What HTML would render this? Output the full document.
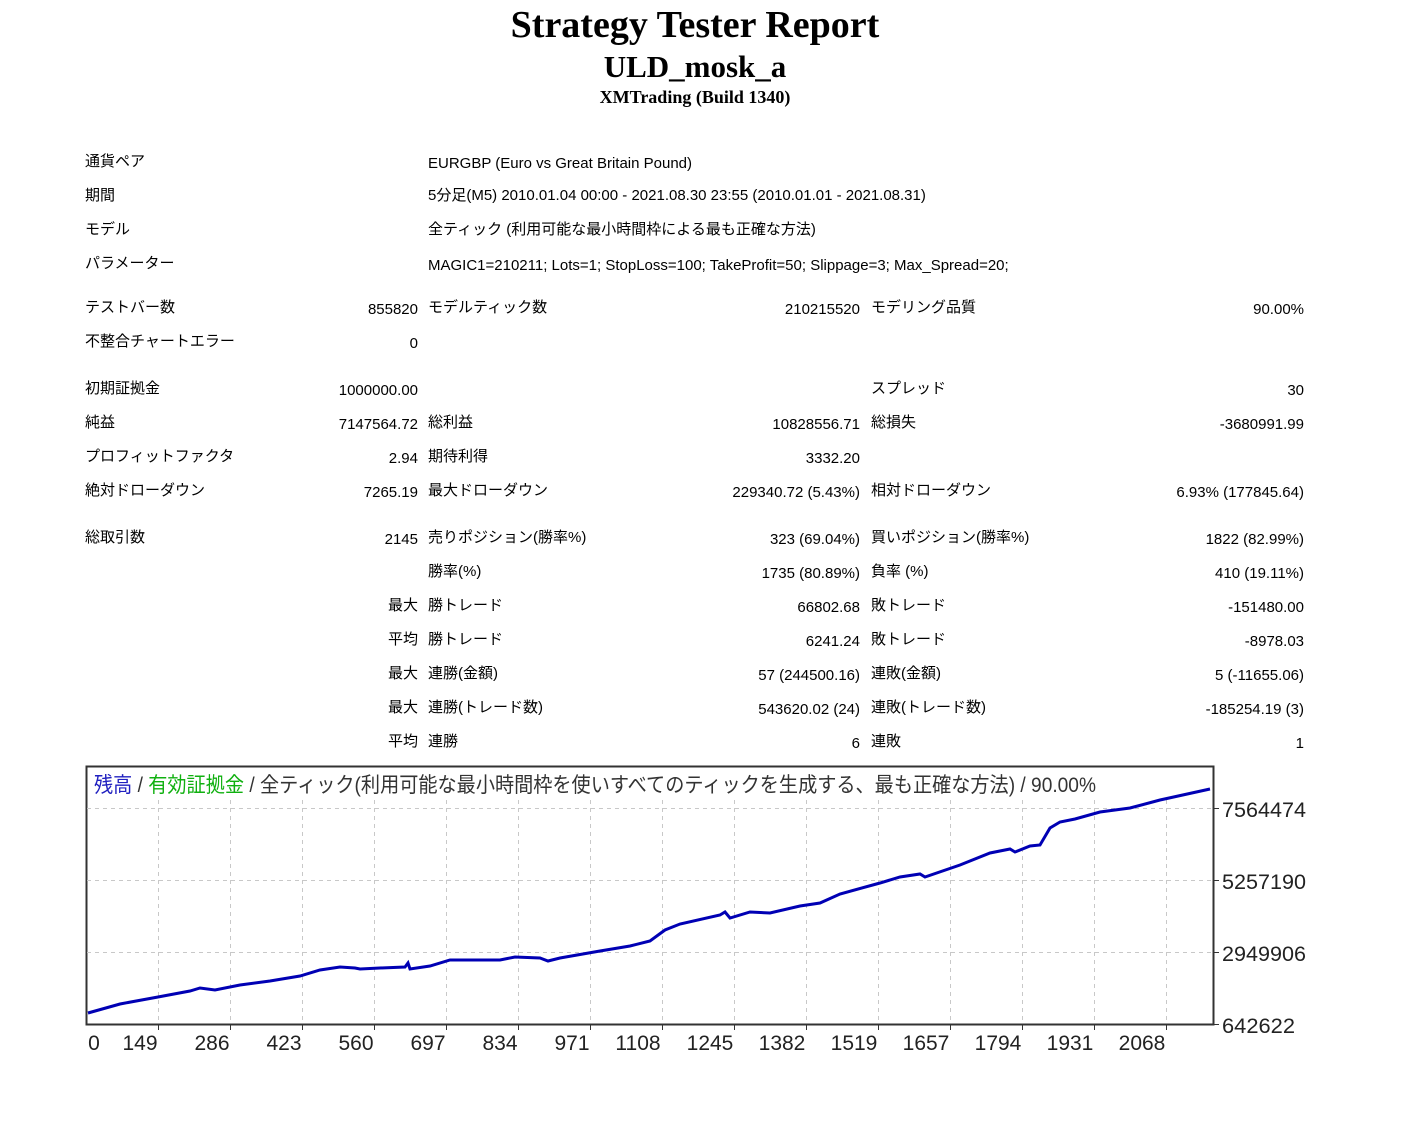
<!DOCTYPE html>
<html><head><meta charset="utf-8"><style>
body{margin:0;width:1411px;height:1134px;background:#fff;position:relative;overflow:hidden;font-family:"Liberation Sans","Noto Sans CJK JP",sans-serif;color:#000}
.t{position:absolute;font-size:15px;line-height:18px;white-space:nowrap;margin-top:2px}
.r{text-align:right}
h1,h2,h3{position:absolute;left:0;width:1390px;text-align:center;margin:0;font-family:"Liberation Serif",serif;font-weight:bold}
</style></head><body>
<h1 style="top:3px;font-size:38px;line-height:44px">Strategy Tester Report</h1>
<h2 style="top:49px;font-size:31px;line-height:36px">ULD_mosk_a</h2>
<h3 style="top:86px;font-size:18px;line-height:22px">XMTrading (Build 1340)</h3>

<div class="t" style="left:85px;top:151px">通貨ペア</div>
<div class="t" style="left:428px;top:153px">EURGBP (Euro vs Great Britain Pound)</div>
<div class="t" style="left:85px;top:185px">期間</div>
<div class="t" style="left:428px;top:185px">5分足(M5) 2010.01.04 00:00 - 2021.08.30 23:55 (2010.01.01 - 2021.08.31)</div>
<div class="t" style="left:85px;top:219px">モデル</div>
<div class="t" style="left:428px;top:219px">全ティック (利用可能な最小時間枠による最も正確な方法)</div>
<div class="t" style="left:85px;top:253px">パラメーター</div>
<div class="t" style="left:428px;top:255px">MAGIC1=210211; Lots=1; StopLoss=100; TakeProfit=50; Slippage=3; Max_Spread=20;</div>

<div class="t" style="left:85px;top:297px">テストバー数</div>
<div class="t r" style="right:993px;top:299px">855820</div>
<div class="t" style="left:428px;top:297px">モデルティック数</div>
<div class="t r" style="right:551px;top:299px">210215520</div>
<div class="t" style="left:871px;top:297px">モデリング品質</div>
<div class="t r" style="right:107px;top:299px">90.00%</div>
<div class="t" style="left:85px;top:331px">不整合チャートエラー</div>
<div class="t r" style="right:993px;top:333px">0</div>

<div class="t" style="left:85px;top:378px">初期証拠金</div>
<div class="t r" style="right:993px;top:380px">1000000.00</div>
<div class="t" style="left:871px;top:378px">スプレッド</div>
<div class="t r" style="right:107px;top:380px">30</div>
<div class="t" style="left:85px;top:412px">純益</div>
<div class="t r" style="right:993px;top:414px">7147564.72</div>
<div class="t" style="left:428px;top:412px">総利益</div>
<div class="t r" style="right:551px;top:414px">10828556.71</div>
<div class="t" style="left:871px;top:412px">総損失</div>
<div class="t r" style="right:107px;top:414px">-3680991.99</div>
<div class="t" style="left:85px;top:446px">プロフィットファクタ</div>
<div class="t r" style="right:993px;top:448px">2.94</div>
<div class="t" style="left:428px;top:446px">期待利得</div>
<div class="t r" style="right:551px;top:448px">3332.20</div>
<div class="t" style="left:85px;top:480px">絶対ドローダウン</div>
<div class="t r" style="right:993px;top:482px">7265.19</div>
<div class="t" style="left:428px;top:480px">最大ドローダウン</div>
<div class="t r" style="right:551px;top:482px">229340.72 (5.43%)</div>
<div class="t" style="left:871px;top:480px">相対ドローダウン</div>
<div class="t r" style="right:107px;top:482px">6.93% (177845.64)</div>

<div class="t" style="left:85px;top:527px">総取引数</div>
<div class="t r" style="right:993px;top:529px">2145</div>
<div class="t" style="left:428px;top:527px">売りポジション(勝率%)</div>
<div class="t r" style="right:551px;top:529px">323 (69.04%)</div>
<div class="t" style="left:871px;top:527px">買いポジション(勝率%)</div>
<div class="t r" style="right:107px;top:529px">1822 (82.99%)</div>

<div class="t" style="left:428px;top:561px">勝率(%)</div>
<div class="t r" style="right:551px;top:563px">1735 (80.89%)</div>
<div class="t" style="left:871px;top:561px">負率 (%)</div>
<div class="t r" style="right:107px;top:563px">410 (19.11%)</div>

<div class="t r" style="right:993px;top:595px">最大</div>
<div class="t" style="left:428px;top:595px">勝トレード</div>
<div class="t r" style="right:551px;top:597px">66802.68</div>
<div class="t" style="left:871px;top:595px">敗トレード</div>
<div class="t r" style="right:107px;top:597px">-151480.00</div>

<div class="t r" style="right:993px;top:629px">平均</div>
<div class="t" style="left:428px;top:629px">勝トレード</div>
<div class="t r" style="right:551px;top:631px">6241.24</div>
<div class="t" style="left:871px;top:629px">敗トレード</div>
<div class="t r" style="right:107px;top:631px">-8978.03</div>

<div class="t r" style="right:993px;top:663px">最大</div>
<div class="t" style="left:428px;top:663px">連勝(金額)</div>
<div class="t r" style="right:551px;top:665px">57 (244500.16)</div>
<div class="t" style="left:871px;top:663px">連敗(金額)</div>
<div class="t r" style="right:107px;top:665px">5 (-11655.06)</div>

<div class="t r" style="right:993px;top:697px">最大</div>
<div class="t" style="left:428px;top:697px">連勝(トレード数)</div>
<div class="t r" style="right:551px;top:699px">543620.02 (24)</div>
<div class="t" style="left:871px;top:697px">連敗(トレード数)</div>
<div class="t r" style="right:107px;top:699px">-185254.19 (3)</div>

<div class="t r" style="right:993px;top:731px">平均</div>
<div class="t" style="left:428px;top:731px">連勝</div>
<div class="t r" style="right:551px;top:733px">6</div>
<div class="t" style="left:871px;top:731px">連敗</div>
<div class="t r" style="right:107px;top:733px">1</div>

<svg style="position:absolute;left:0;top:0" width="1411" height="1134">
<rect x="86.5" y="766.5" width="1127" height="258" fill="#fff" stroke="#333" stroke-width="2"/>
<g stroke="#c8c8c8" stroke-width="1" stroke-dasharray="4,4">
<line x1="87" y1="808.5" x2="1213" y2="808.5"/><line x1="87" y1="880.5" x2="1213" y2="880.5"/><line x1="87" y1="952.5" x2="1213" y2="952.5"/>
<line x1="158.5" y1="800" x2="158.5" y2="1024"/><line x1="230.5" y1="800" x2="230.5" y2="1024"/><line x1="302.5" y1="800" x2="302.5" y2="1024"/><line x1="374.5" y1="800" x2="374.5" y2="1024"/><line x1="446.5" y1="800" x2="446.5" y2="1024"/><line x1="518.5" y1="800" x2="518.5" y2="1024"/><line x1="590.5" y1="800" x2="590.5" y2="1024"/><line x1="662.5" y1="800" x2="662.5" y2="1024"/><line x1="734.5" y1="800" x2="734.5" y2="1024"/><line x1="806.5" y1="800" x2="806.5" y2="1024"/><line x1="878.5" y1="800" x2="878.5" y2="1024"/><line x1="950.5" y1="800" x2="950.5" y2="1024"/><line x1="1022.5" y1="800" x2="1022.5" y2="1024"/><line x1="1094.5" y1="800" x2="1094.5" y2="1024"/><line x1="1166.5" y1="800" x2="1166.5" y2="1024"/>
</g>
<g stroke="#333" stroke-width="1">
<line x1="158.5" y1="1025" x2="158.5" y2="1030"/><line x1="230.5" y1="1025" x2="230.5" y2="1030"/><line x1="302.5" y1="1025" x2="302.5" y2="1030"/><line x1="374.5" y1="1025" x2="374.5" y2="1030"/><line x1="446.5" y1="1025" x2="446.5" y2="1030"/><line x1="518.5" y1="1025" x2="518.5" y2="1030"/><line x1="590.5" y1="1025" x2="590.5" y2="1030"/><line x1="662.5" y1="1025" x2="662.5" y2="1030"/><line x1="734.5" y1="1025" x2="734.5" y2="1030"/><line x1="806.5" y1="1025" x2="806.5" y2="1030"/><line x1="878.5" y1="1025" x2="878.5" y2="1030"/><line x1="950.5" y1="1025" x2="950.5" y2="1030"/><line x1="1022.5" y1="1025" x2="1022.5" y2="1030"/><line x1="1094.5" y1="1025" x2="1094.5" y2="1030"/><line x1="1166.5" y1="1025" x2="1166.5" y2="1030"/>
<line x1="1214" y1="808.5" x2="1219" y2="808.5"/><line x1="1214" y1="880.5" x2="1219" y2="880.5"/><line x1="1214" y1="952.5" x2="1219" y2="952.5"/><line x1="1214" y1="1024.5" x2="1219" y2="1024.5"/>
</g>
<polyline fill="none" stroke="#0000b4" stroke-width="3" points="88,1013 120,1004 158,997 190,991 200,988 215,990 240,985 270,981 300,976 320,970 340,967 355,968 360,969 380,968 405,967 408,963 410,969 430,966 450,960 500,960 515,957 540,958 548,961 560,958 600,951 630,946 650,941 665,930 680,924 720,915 725,912 730,918 750,912 770,913 800,906 820,903 840,894 880,883 900,877 920,874 925,877 960,865 990,853 1010,849 1015,852 1030,846 1040,845 1050,828 1060,822 1075,819 1100,812 1130,808 1160,800 1210,789"/>
<text x="94" y="792" font-size="21" font-family="Liberation Sans,Noto Sans CJK JP,sans-serif" textLength="1002" lengthAdjust="spacingAndGlyphs"><tspan fill="#2020c0">残高</tspan><tspan fill="#333"> / </tspan><tspan fill="#10b010">有効証拠金</tspan><tspan fill="#333"> / 全ティック(利用可能な最小時間枠を使いすべてのティックを生成する、最も正確な方法) / 90.00%</tspan></text>
<g font-size="21" fill="#222" font-family="Liberation Sans,sans-serif">
<text x="1222" y="817" textLength="84" lengthAdjust="spacingAndGlyphs">7564474</text><text x="1222" y="889" textLength="84" lengthAdjust="spacingAndGlyphs">5257190</text><text x="1222" y="961" textLength="84" lengthAdjust="spacingAndGlyphs">2949906</text><text x="1222" y="1033" textLength="73" lengthAdjust="spacingAndGlyphs">642622</text>
</g>
<g font-size="21" fill="#222" font-family="Liberation Sans,sans-serif" text-anchor="middle">
<text x="94" y="1050">0</text><text x="140" y="1050">149</text><text x="212" y="1050">286</text><text x="284" y="1050">423</text><text x="356" y="1050">560</text><text x="428" y="1050">697</text><text x="500" y="1050">834</text><text x="572" y="1050">971</text><text x="638" y="1050">1108</text><text x="710" y="1050">1245</text><text x="782" y="1050">1382</text><text x="854" y="1050">1519</text><text x="926" y="1050">1657</text><text x="998" y="1050">1794</text><text x="1070" y="1050">1931</text><text x="1142" y="1050">2068</text>
</g>
</svg>
</body></html>
